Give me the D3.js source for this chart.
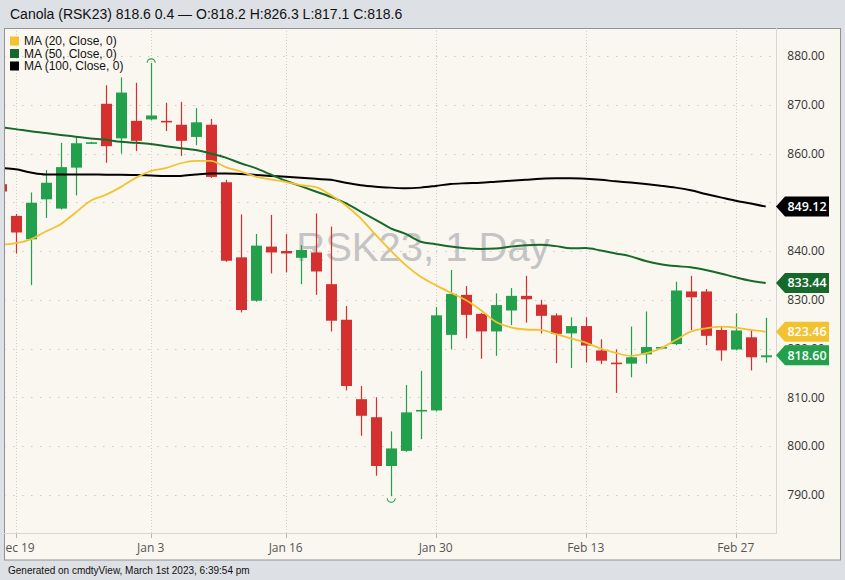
<!DOCTYPE html>
<html><head><meta charset="utf-8">
<script src="https://cdn.jsdelivr.net/npm/d3@7"></script>
<style>html,body{margin:0;padding:0;background:#dde0e4;}svg{display:block;}</style>
</head><body>
<svg id="c" width="845" height="580"></svg>
<script>
const dates = ["Dec 16","Dec 19","Dec 20","Dec 21","Dec 22","Dec 23","Dec 27","Dec 28","Dec 29","Dec 30",
"Jan 3","Jan 4","Jan 5","Jan 6","Jan 9","Jan 10","Jan 11","Jan 12","Jan 13","Jan 16",
"Jan 17","Jan 18","Jan 19","Jan 20","Jan 23","Jan 24","Jan 25","Jan 26","Jan 27","Jan 30",
"Jan 31","Feb 1","Feb 2","Feb 3","Feb 6","Feb 7","Feb 8","Feb 9","Feb 10","Feb 13",
"Feb 14","Feb 15","Feb 16","Feb 17","Feb 20","Feb 21","Feb 22","Feb 23","Feb 24","Feb 27",
"Feb 28","Mar 1"];
const open  = [853.7,847.2,842.4,850.6,848.7,857.1,862.1,870.2,863.1,866.7,
867.0,866.7,865.9,863.4,865.9,854.1,838.7,829.8,840.9,840.0,
838.6,839.7,833.2,825.9,809.6,805.9,795.9,799.0,807.2,807.3,
822.8,831.0,827.1,823.5,827.8,830.8,829.0,826.8,823.1,824.6,
819.6,817.1,816.9,818.8,820.2,820.9,831.7,831.7,823.8,819.8,
822.3,818.2];
const high  = [855.0,847.6,852.0,856.6,862.2,863.4,862.4,874.0,875.6,874.5,
878.6,870.4,870.6,869.3,867.1,854.6,847.5,843.5,847.4,843.5,
841.2,847.7,845.0,828.7,812.3,810.0,803.0,812.5,815.4,828.5,
836.1,832.8,827.3,831.3,832.4,834.9,830.0,827.2,826.4,826.4,
821.9,819.8,824.5,827.6,820.4,833.7,834.9,832.2,824.6,827.2,
823.8,826.3];
const low   = [851.5,839.5,833.0,846.8,848.5,851.4,862.0,858.1,860.0,860.5,
866.8,864.6,859.5,861.7,855.0,837.8,827.4,829.6,835.4,835.6,
833.2,831.0,823.5,811.4,802.1,793.9,789.7,798.8,801.4,807.1,
819.8,822.1,817.9,818.5,824.8,825.3,823.1,817.0,816.0,817.1,
816.8,810.9,814.1,816.9,820.1,820.7,823.8,820.7,817.5,819.6,
815.5,817.1];
const close = [852.2,843.8,849.9,854.0,857.2,862.1,862.3,861.5,872.5,862.6,
867.8,866.5,862.6,866.4,855.2,838.0,827.9,841.1,839.7,839.5,
840.2,835.8,825.7,812.3,806.2,795.9,799.5,806.9,807.4,826.8,
831.2,826.9,823.5,828.9,830.8,830.1,826.7,823.0,824.6,820.6,
817.5,816.9,818.2,820.3,820.3,831.9,830.5,822.6,819.6,823.7,
818.2,818.6];
const ma20 = [841.3,841.6,842.4,844.0,845.5,847.9,850.3,851.5,853.1,855.0,
856.4,857.0,858.0,858.5,858.5,857.2,856.3,855.25,854.7,854.2,
853.5,853.1,851.5,849.4,846.7,843.3,840.1,837.1,834.7,833.0,
831.45,829.95,827.9,825.5,824.35,823.9,823.8,822.95,822.1,821.2,
820.0,819.1,818.5,819.0,820.0,821.75,823.45,824.15,824.5,824.3,
823.8,823.46];
const ma50 = [865.4,865.0,864.55,864.2,863.8,863.45,863.1,862.8,862.4,862.2,
861.95,861.5,861.1,860.7,860.0,859.15,858.0,857.0,855.7,854.4,
853.3,852.2,851.1,849.8,848.1,846.4,844.65,843.5,841.9,841.4,
840.9,840.55,840.4,840.5,840.9,841.2,841.3,841.0,840.55,840.6,
840.1,839.5,838.9,837.95,837.3,836.9,836.65,836.1,835.4,834.6,
833.9,833.44];
const ma100 = [857.0,856.75,856.1,855.7,855.7,855.7,855.7,855.65,855.65,855.6,
855.5,855.4,855.4,855.7,855.9,855.9,855.8,855.6,855.4,855.25,
855.05,854.8,854.6,854.0,853.5,853.2,853.0,852.85,853.0,853.35,
853.75,853.9,854.0,854.2,854.4,854.6,854.8,854.9,854.9,854.8,
854.6,854.3,854.05,853.75,853.4,853.0,852.45,851.7,851.0,850.3,
849.75,849.12];
const gridTicks = [790,800,810,820,830,840,850,860,870,880];
const priceLabels = [790,800,810,820,830,840,860,870,880];
const dateTicks = ["Dec 19","Jan 3","Jan 16","Jan 30","Feb 13","Feb 27"];
const legendLabels = ["MA (20, Close, 0)","MA (50, Close, 0)","MA (100, Close, 0)"];
const title = "Canola (RSK23) 818.6 0.4 \u2014 O:818.2 H:826.3 L:817.1 C:818.6";
const footer = "Generated on cmdtyView, March 1st 2023, 6:39:54 pm";
const watermark = "RSK23, 1 Day";

const UP="#22a04b", DOWN="#d3302f", C20="#f2c230", C50="#17692b", C100="#000000";
const svg = d3.select("#c");
const PL=4, PR=776, PT=28, PB=533;

svg.append("rect").attr("x",0).attr("y",0).attr("width",845).attr("height",580).attr("fill","#dde0e4");
svg.append("rect").attr("x",4.5).attr("y",28.5).attr("width",836).attr("height",531.5)
  .attr("fill","#faf7f0").attr("stroke","#8f9296").attr("stroke-width",1);

const x = d3.scaleLinear().domain([0, dates.length-1]).range([0.7, 765.7]);
const y = d3.scaleLinear().domain([790, 880]).range([494.75, 56]);

const defs = svg.append("defs");
defs.append("clipPath").attr("id","plotclip")
  .append("rect").attr("x",PL+1).attr("y",PT+1).attr("width",PR-PL-1).attr("height",PB-PT-1);
defs.append("clipPath").attr("id","xclip")
  .append("rect").attr("x",PL+1).attr("y",PB).attr("width",PR-PL).attr("height",30);

const grid = svg.append("g").attr("clip-path","url(#plotclip)");
grid.selectAll("line.h").data(gridTicks).join("line")
  .attr("x1",PL).attr("x2",PR).attr("y1",d=>Math.round(y(d))+0.5).attr("y2",d=>Math.round(y(d))+0.5)
  .attr("stroke","#c9c9c9").attr("stroke-dasharray","1.5,7.5").attr("stroke-width",1);
grid.selectAll("line.v").data(dateTicks).join("line")
  .attr("x1",d=>Math.round(x(dates.indexOf(d)))+0.5).attr("x2",d=>Math.round(x(dates.indexOf(d)))+0.5)
  .attr("y1",PT).attr("y2",PB)
  .attr("stroke","#cfcfcf").attr("stroke-dasharray","1,2").attr("stroke-width",1);

svg.append("text").attr("x",423).attr("y",261).attr("text-anchor","middle")
  .attr("font-family","Liberation Sans, Arial, sans-serif").attr("font-size",40)
  .attr("fill","#c4c4c4").text(watermark);

svg.append("line").attr("x1",PR+0.5).attr("x2",PR+0.5).attr("y1",PT).attr("y2",PB+1).attr("stroke","#d6d6d6");
svg.append("line").attr("x1",PL).attr("x2",PR).attr("y1",PB+0.5).attr("y2",PB+0.5).attr("stroke","#d6d6d6");

const xg = svg.append("g").attr("clip-path","url(#xclip)");
xg.selectAll("line").data(dateTicks).join("line")
  .attr("x1",d=>Math.round(x(dates.indexOf(d)))+0.5).attr("x2",d=>Math.round(x(dates.indexOf(d)))+0.5)
  .attr("y1",PB+1).attr("y2",PB+5).attr("stroke","#b5b5b5");
xg.selectAll("text").data(dateTicks).join("text")
  .attr("x",d=>x(dates.indexOf(d))).attr("y",552).attr("text-anchor","middle")
  .attr("font-family","Open Sans, sans-serif").attr("font-size",12).attr("fill","#555")
  .text(d=>d);

svg.append("g").selectAll("text").data(priceLabels).join("text")
  .attr("x",806).attr("y",d=>y(d)+4.3).attr("text-anchor","middle")
  .attr("font-family","Open Sans, sans-serif").attr("font-size",12).attr("fill","#333")
  .text(d=>d.toFixed(2));

const plot = svg.append("g").attr("clip-path","url(#plotclip)");
const idx = d3.range(dates.length);
const col = i => close[i] >= open[i] ? UP : DOWN;
plot.selectAll("line.w").data(idx).join("line")
  .attr("x1",i=>Math.round(x(i))+0.5).attr("x2",i=>Math.round(x(i))+0.5)
  .attr("y1",i=>y(high[i])).attr("y2",i=>y(low[i]))
  .attr("stroke",col).attr("stroke-width",1.2);
plot.selectAll("rect.b").data(idx).join("rect")
  .attr("x",i=>Math.round(x(i))+0.5-5.5).attr("width",11)
  .attr("y",i=>Math.min(y(open[i]),y(close[i])))
  .attr("height",i=>Math.max(1.6, Math.abs(y(open[i])-y(close[i]))))
  .attr("fill",col);

const hiI = d3.maxIndex(high), loI = d3.minIndex(low);
plot.append("path")
  .attr("d",`M${x(hiI)-4},${y(high[hiI])+1} A4,4 0 0 1 ${x(hiI)+4},${y(high[hiI])+1}`)
  .attr("fill","none").attr("stroke",col(hiI)).attr("stroke-width",1.1).attr("transform","translate(0.5,-1)");
plot.append("path")
  .attr("d",`M${x(loI)-4},${y(low[loI])-1} A4,4 0 0 0 ${x(loI)+4},${y(low[loI])-1}`)
  .attr("fill","none").attr("stroke",col(loI)).attr("stroke-width",1.1).attr("transform","translate(0.5,3)");

const line = arr => d3.line().x((d,i)=>x(i)).y(d=>y(d)).curve(d3.curveMonotoneX)(arr);
plot.append("path").attr("d",line(ma100)).attr("fill","none").attr("stroke",C100).attr("stroke-width",2);
plot.append("path").attr("d",line(ma50)).attr("fill","none").attr("stroke",C50).attr("stroke-width",2);
plot.append("path").attr("d",line(ma20)).attr("fill","none").attr("stroke",C20).attr("stroke-width",1.8);

const tags = [
  {v: ma100[ma100.length-1], c: C100},
  {v: ma50[ma50.length-1], c: C50},
  {v: ma20[ma20.length-1], c: C20},
  {v: close[close.length-1], c: UP}
];
const tg = svg.append("g");
tags.forEach(t=>{
  const yc = y(t.v);
  tg.append("path").attr("d",`M776,${yc} L785,${yc-10} L829,${yc-10} L829,${yc+10} L785,${yc+10} Z`).attr("fill",t.c);
  tg.append("text").attr("x",807).attr("y",yc+4.5).attr("text-anchor","middle")
    .attr("font-family","Open Sans, sans-serif").attr("font-size",12.5).attr("font-weight",600)
    .attr("fill","#fff").text(t.v.toFixed(2));
});

const lg = svg.append("g");
[C20,C50,C100].forEach((c,i)=>{
  lg.append("rect").attr("x",10).attr("y",36.5+i*12.5).attr("width",9).attr("height",9).attr("fill",c);
  lg.append("text").attr("x",24).attr("y",45.3+i*12.5)
    .attr("font-family","Liberation Sans, Arial, sans-serif").attr("font-size",12).attr("fill","#111")
    .text(legendLabels[i]);
});

svg.append("text").attr("x",10).attr("y",18.5).attr("font-family","Liberation Sans, Arial, sans-serif")
  .attr("font-size",14).attr("fill","#111").text(title);
svg.append("text").attr("x",8).attr("y",573.5).attr("font-family","Liberation Sans, Arial, sans-serif")
  .attr("font-size",10).attr("fill","#111").text(footer);
</script>
</body></html>
